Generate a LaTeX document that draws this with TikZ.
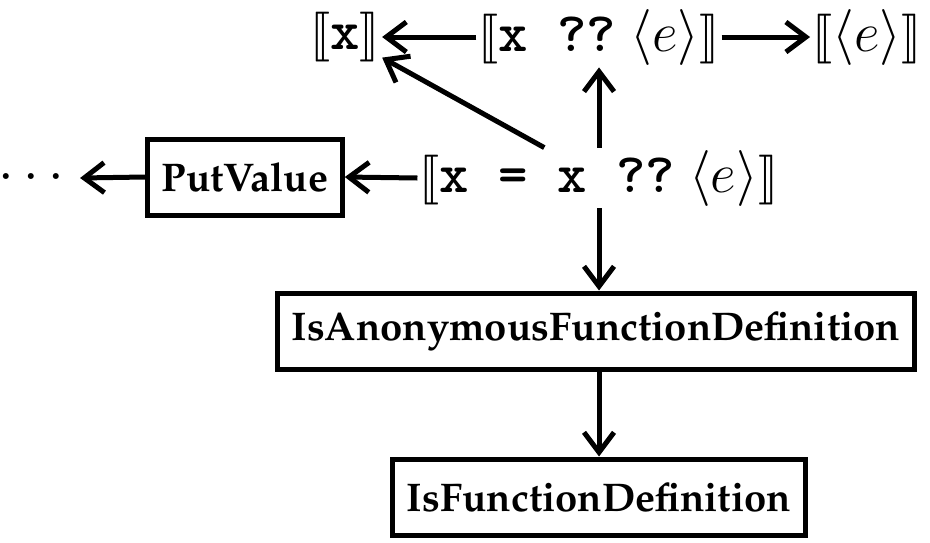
\documentclass[tikz,border=0pt]{standalone}
\usepackage{fix-cm}
\IfFileExists{ot1ppl.fd}{\usepackage[OT1]{fontenc}\renewcommand{\rmdefault}{ppl}}{}
\IfFileExists{stmaryrd.sty}{\usepackage{stmaryrd}\newcommand{\lbr}{\llbracket}\newcommand{\rbr}{\rrbracket}}{\newcommand{\lbr}{[\![}\newcommand{\rbr}{]\!]}}
\newcommand{\codett}[1]{\mbox{\fontencoding{TU}\fontfamily{lmtt}\fontseries{b}\selectfont #1}}
\usetikzlibrary{arrows.meta}
\tikzset{
  mathn/.style={inner sep=1pt, font=\fontsize{28}{32}\selectfont},
  boxn/.style={draw, line width=2.5pt, inner xsep=7pt, minimum height=38pt,
    font=\fontsize{20}{24}\selectfont\bfseries},
  arr/.style={-{Straight Barb[length=10pt,width=15pt]}, line width=2.5pt},
}
\begin{document}
\begin{tikzpicture}[x=0.5pt,y=-0.5pt]
\useasboundingbox (0,0) rectangle (930,542);
\node[mathn] (xb) at (345,37) {$\lbr\codett{x}\rbr$};
\node[mathn] (top) at (599,37) {$\lbr\codett{x ??}\ \langle e\rangle\rbr$};
\node[mathn] (te) at (867,37) {$\lbr\langle e\rangle\rbr$};
\node[mathn] (main) at (599,178) {$\lbr\codett{x = x ??}\ \langle e\rangle\rbr$};
\node[mathn, inner xsep=8pt] (dots) at (31,178) {$\cdots$};
\node[boxn] (pv) at (245,177) {PutValue};
\node[boxn] (ia) at (596,331) {IsAnonymousFunctionDefinition};
\node[boxn] (ifd) at (599,497) {IsFunctionDefinition};
\draw[arr] (top.west) -- (xb.east);
\draw[arr] (top.east) -- (te.west);
\draw[arr] (main) -- (xb);
\draw[arr] (main.north) -- (top.south);
\draw[arr] (main.west) -- (pv.east);
\draw[arr] (pv.west) -- (dots.east);
\draw[arr] (main.south) -- (main.south |- ia.north);
\draw[arr] (ia.south -| ifd.north) -- (ifd.north);
\end{tikzpicture}
\end{document}
